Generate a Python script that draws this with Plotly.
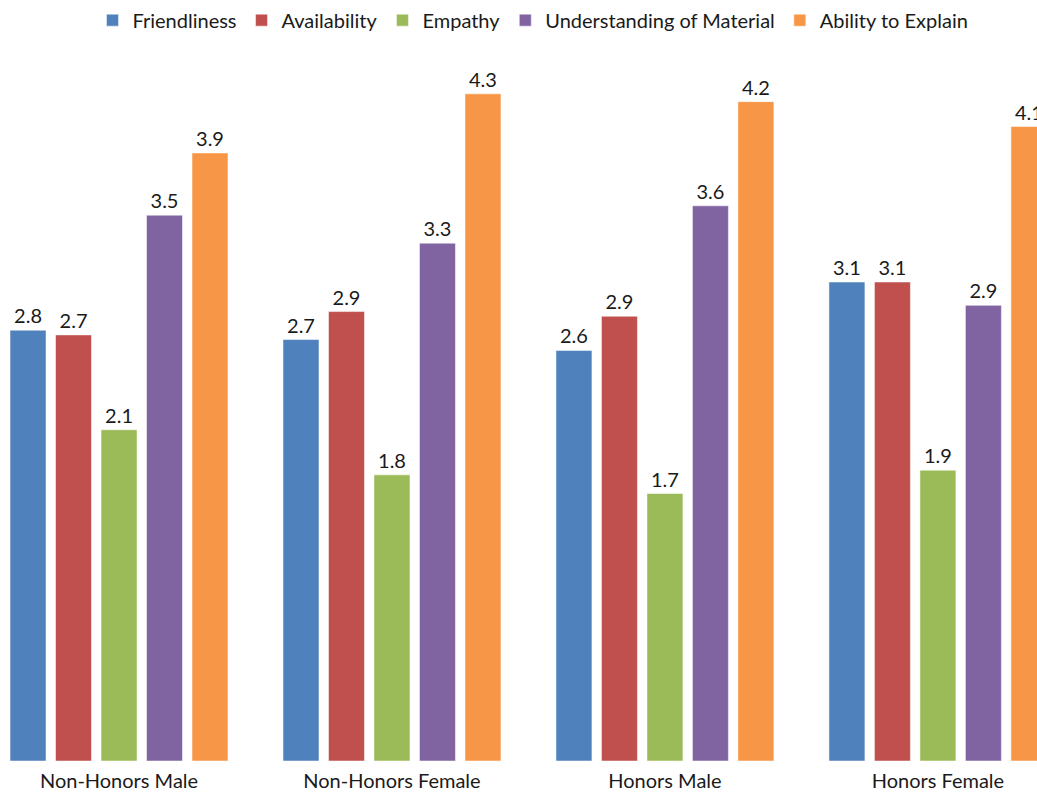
import plotly.graph_objects as go

categories = ["Non-Honors Male", "Non-Honors Female", "Honors Male", "Honors Female"]
series_names = ["Friendliness", "Availability", "Empathy", "Understanding of Material", "Ability to Explain"]
friendliness = [2.77, 2.71, 2.64, 3.08]
availability = [2.74, 2.89, 2.86, 3.08]
empathy = [2.13, 1.84, 1.72, 1.87]
understanding = [3.51, 3.33, 3.57, 2.93]
ability = [3.91, 4.29, 4.24, 4.08]
colors = ["#4F81BD", "#C0504D", "#9BBB59", "#8064A2", "#F79646"]

series_values = [friendliness, availability, empathy, understanding, ability]

FONT = "Lato"
fig = go.Figure()
for name, vals, col in zip(series_names, series_values, colors):
    fig.add_trace(go.Bar(
        name=name, x=categories, y=vals,
        marker=dict(color=col, line=dict(color="rgba(255,255,255,0.5)", width=1)),
        texttemplate="%{y:.1f}", textposition="outside",
        textfont=dict(family=FONT, size=20, color="#1a1a1a"),
        cliponaxis=False,
    ))

fig.update_layout(
    width=1037, height=792,
    margin=dict(l=0, r=0, t=50, b=31),
    barmode="group", bargap=0.1667, bargroupgap=0.209,
    plot_bgcolor="white", paper_bgcolor="white",
    font=dict(family=FONT, size=20, color="#1a1a1a"),
    showlegend=True,
    legend=dict(orientation="h", x=0.514, xanchor="center", y=1.042, yanchor="middle",
                font=dict(family=FONT, size=20, color="#1a1a1a"), itemclick=False,
                itemwidth=30),
    xaxis=dict(range=[-0.436, 3.363], showline=False, showgrid=False, ticks="",
               ticklabelstandoff=6,
               tickfont=dict(family=FONT, size=20, color="#1a1a1a"), automargin=False),
    yaxis=dict(range=[0, 4.572], visible=False, showgrid=False, zeroline=False),
)

fig.write_html("out.html")
